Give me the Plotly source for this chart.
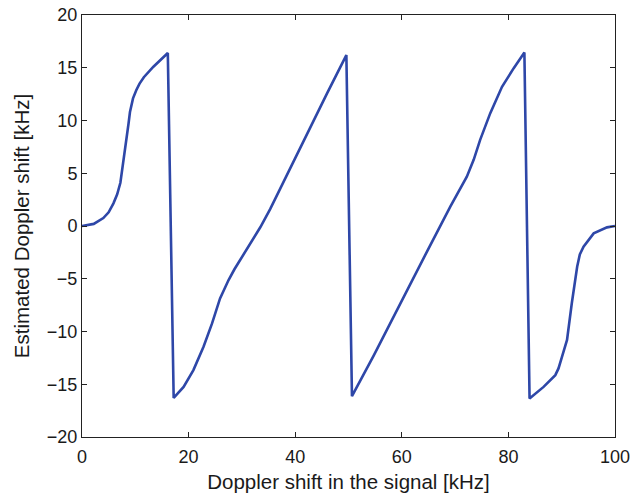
import plotly.graph_objects as go

# Doppler shift in the signal [kHz]
x_khz = [0, 2.2, 4.0, 5.0, 5.9, 6.6, 7.2, 8.1, 8.74, 9.0, 9.57, 10.2, 10.8, 11.6, 13.4, 16.1,
         17.2, 19.06, 20.9, 22.8, 24.4, 25.9, 26.7, 27.5, 28.6, 29.7, 31.5, 33.45, 35.3, 37.2,
         39.1, 42.2, 46.0, 49.6,
         50.65, 54.7, 59.7, 64.7, 69.1, 72.2, 73.5, 74.7, 76.6, 78.8, 81.0, 83.0,
         83.97, 86.6, 88.8, 89.4, 90.05, 91.0, 91.9, 92.9, 93.4, 94.1, 96.0, 98.5, 100]
# Estimated Doppler shift [kHz]
y_khz = [0, 0.2, 0.75, 1.3, 2.15, 3.0, 4.1, 7.2, 9.74, 10.8, 12.1, 12.9, 13.5, 14.1, 15.1, 16.4,
         -16.3, -15.25, -13.66, -11.45, -9.23, -6.86, -5.9, -5.12, -4.1, -3.2, -1.75, -0.12, 1.6, 3.55,
         5.6, 8.8, 12.6, 16.2,
         -16.13, -12.3, -7.33, -2.45, 1.83, 4.68, 6.3, 8.16, 10.7, 13.2, 14.96, 16.44,
         -16.35, -15.25, -14.14, -13.5, -12.4, -10.8, -7.3, -3.86, -2.7, -1.96, -0.7, -0.13, 0]

x_ticks = [0, 20, 40, 60, 80, 100]
y_ticks = [-20, -15, -10, -5, 0, 5, 10, 15, 20]

fig = go.Figure()
fig.add_trace(go.Scatter(x=x_khz, y=y_khz, mode="lines",
                         line=dict(color="#2E47A8", width=2.6), showlegend=False))

fam = "Liberation Sans, Arial, sans-serif"
tick_font = dict(family=fam, size=18, color="#1a1a1a")
title_font = dict(family=fam, size=20.5, color="#1a1a1a")
axis_common = dict(showgrid=False, zeroline=False, showline=True, linecolor="#222",
                   linewidth=1, mirror="ticks", ticks="inside", ticklen=5,
                   tickcolor="#222", tickfont=tick_font, automargin=False)

fig.update_layout(
    width=644, height=494,
    margin=dict(l=82, r=29, t=15, b=57),
    paper_bgcolor="white", plot_bgcolor="white",
    font=tick_font,
    xaxis=dict(range=[0, 100], tickvals=x_ticks, ticklabelstandoff=3,
               title=dict(text="Doppler shift in the signal [kHz]",
                          font=title_font, standoff=9),
               **axis_common),
    yaxis=dict(range=[-20, 20], tickvals=y_ticks,
               title=dict(text="Estimated Doppler shift [kHz]",
                          font=title_font, standoff=11),
               **axis_common),
)

fig.write_html("out.html", config={"displayModeBar": False},
               post_script="document.body.style.margin='0';")
